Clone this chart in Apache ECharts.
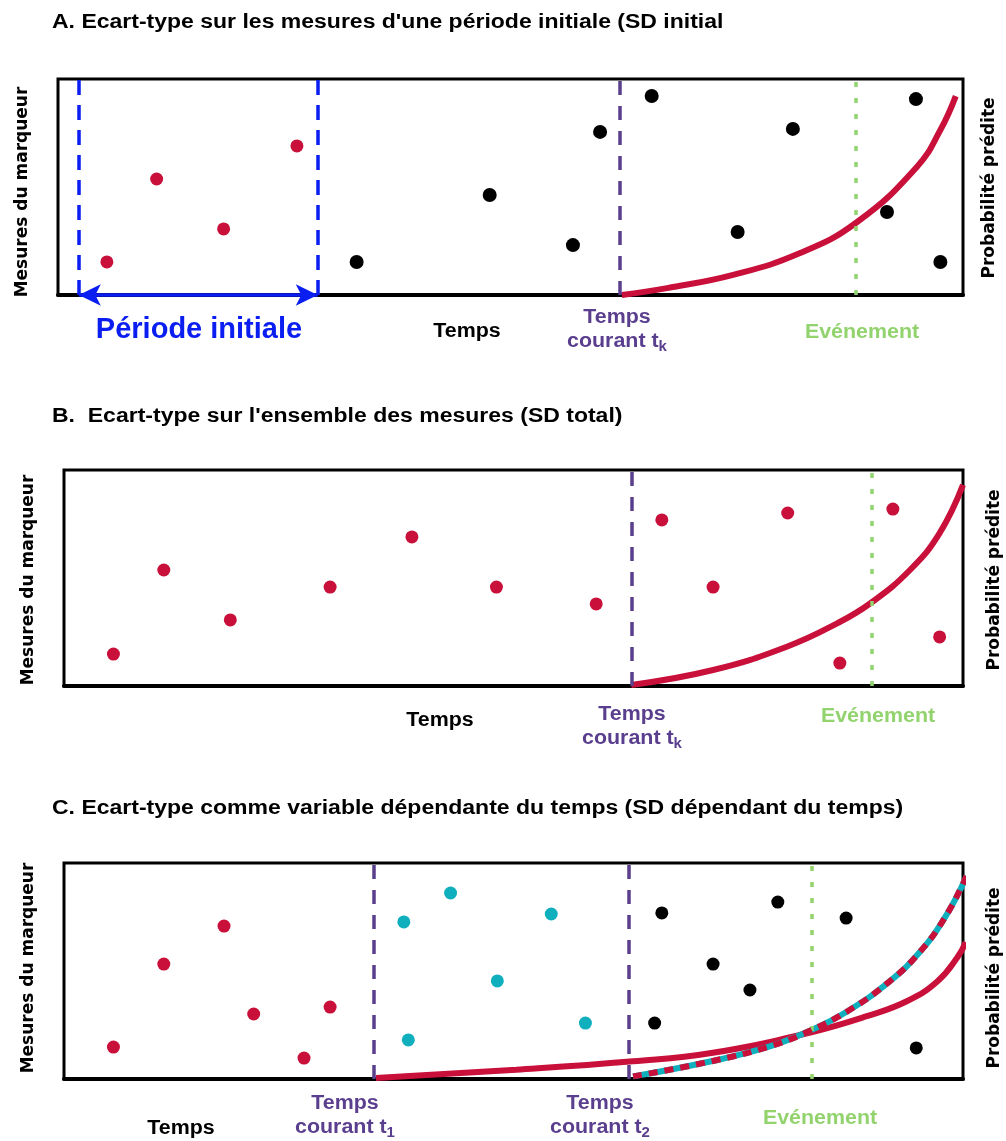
<!DOCTYPE html>
<html>
<head>
<meta charset="utf-8">
<script src="https://cdn.jsdelivr.net/npm/echarts/dist/echarts.min.js"></script>
<style>
  html, body { margin: 0; padding: 0; background: #ffffff; }
  #chart { width: 1006px; height: 1141px; }
</style>
</head>
<body>
<div id="chart"></div>
<script>
// Each panel uses a time axis from 0 to 100 and a marker axis from 0 to 100.

// Panel A: SD over an initial period
const aInitialPoints = [[5.4, 15.3], [10.9, 53.7], [18.3, 30.6], [26.4, 69.0]];
const aLaterPoints = [[33.0, 15.3], [47.7, 46.3], [56.9, 23.1], [59.9, 75.5], [65.6, 92.1],
                      [75.1, 29.2], [81.2, 76.9], [91.6, 38.4], [94.8, 90.7], [97.5, 15.3]];
const aInitialStart = 2.3;
const aInitialEnd = 28.7;
const aCurrentTime = 62.1;
const aEventTime = 88.1;
const aRiskCurve = [[62.3, 0], [67.3, 3.2], [74.6, 9.3], [82.0, 19.4], [88.3, 33.8],
                    [94.9, 59.3], [97.5, 76.4], [99.2, 92.1]];

// Panel B: SD over all measurements
const bPoints = [[5.5, 14.8], [11.1, 53.7], [18.5, 30.6], [29.6, 45.8], [38.7, 69.0],
                 [48.1, 45.8], [59.2, 38.0], [66.5, 76.9], [72.2, 45.8], [80.5, 80.1],
                 [86.3, 10.6], [92.2, 81.9], [97.4, 22.7]];
const bCurrentTime = 63.1;
const bEventTime = 89.8;
const bRiskCurve = [[63.1, 0.5], [72.2, 7.4], [80.4, 18.2], [86.0, 29.0], [89.7, 38.3],
                    [94.1, 53.7], [97.4, 70.8], [100, 93.1]];

// Panel C: SD as a time-dependent variable
const cFirstPoints = [[5.5, 14.8], [11.1, 53.2], [17.8, 70.8], [21.1, 30.1], [29.6, 33.3], [26.7, 9.7]];
const cSecondPoints = [[37.8, 72.7], [43.0, 86.1], [54.2, 76.4], [48.2, 45.4], [38.3, 18.1], [58.0, 25.9]];
const cThirdPoints = [[66.5, 76.9], [72.2, 53.2], [79.4, 81.9], [76.3, 41.2], [65.7, 25.9],
                      [87.0, 74.5], [94.8, 14.4]];
const cCurrentTime1 = 34.5;
const cCurrentTime2 = 62.8;
const cEventTime = 83.2;
const cRiskCurve1 = [[34.7, 0.5], [50.3, 4.3], [63.3, 8.2], [72.0, 12.0], [82.9, 21.4],
                     [89.4, 29.2], [93.8, 36.1], [97.2, 45.4], [99.4, 56.5], [100.3, 63.4]];
const cRiskCurve2 = [[63.3, 1.2], [72.0, 8.2], [78.6, 15.2], [82.9, 22.2], [87.2, 31.5],
                     [91.6, 44.4], [95.1, 58.3], [98.1, 75.5], [100.4, 94.0]];

const RED = '#c8103a';
const CYAN = '#0fafbd';
const PURPLE = '#5b3f8f';
const GREEN = '#92d36e';
const BLUE = '#0a1ef2';
const BLACK = '#000000';
const FONT = '"Liberation Sans", Arial, sans-serif';
const SIDE_FONT = '"DejaVu Sans", sans-serif';

const grids = [
  { left: 58, top: 79, width: 905, height: 216 },
  { left: 64, top: 470, width: 899, height: 216 },
  { left: 64, top: 863, width: 899, height: 216 }
].map(g => Object.assign({ show: true, borderColor: BLACK, borderWidth: 3, backgroundColor: 'transparent' }, g));

const xAxes = grids.map((g, i) => ({
  type: 'value', gridIndex: i, min: 0, max: 100,
  axisLine: { show: true, onZero: false, lineStyle: { color: BLACK, width: 4 } },
  axisTick: { show: false }, axisLabel: { show: false }, splitLine: { show: false }
}));
const yAxes = grids.map((g, i) => ({
  type: 'value', gridIndex: i, min: 0, max: 100, show: false
}));

function dots(i, data, color, size) {
  return {
    type: 'scatter', xAxisIndex: i, yAxisIndex: i, data: data,
    symbol: 'circle', symbolSize: size || 13, z: 5, silent: true,
    itemStyle: { color: color, opacity: 1 }
  };
}

function curve(i, data, color, type, z) {
  return {
    type: 'line', xAxisIndex: i, yAxisIndex: i, data: data,
    smooth: 0.45, showSymbol: false, silent: true, z: z || 4,
    clip: false,
    lineStyle: { color: color, width: 6, type: type || 'solid', cap: 'butt' }
  };
}

function verticals(i, lines) {
  return {
    type: 'line', xAxisIndex: i, yAxisIndex: i, data: [], silent: true, z: 3,
    markLine: {
      silent: true, symbol: 'none', label: { show: false },
      animation: false,
      data: lines.map(l => ({ xAxis: l.x, lineStyle: { color: l.color, width: 3.5, type: l.dash } }))
    }
  };
}

const dashBlue = [15, 10];
const dashPurple = [14, 11];
const dotGreen = [5, 11];

const series = [
  // Panel A
  verticals(0, [
    { x: aInitialStart, color: BLUE, dash: dashBlue },
    { x: aInitialEnd, color: BLUE, dash: dashBlue },
    { x: aCurrentTime, color: PURPLE, dash: dashPurple },
    { x: aEventTime, color: GREEN, dash: dotGreen }
  ]),
  {
    type: 'line', xAxisIndex: 0, yAxisIndex: 0, data: [], silent: true, z: 6,
    markLine: {
      silent: true, symbol: ['arrow', 'arrow'], symbolSize: [16, 22], label: { show: false },
      animation: false,
      lineStyle: { color: BLUE, width: 3.5, type: 'solid' },
      data: [[{ coord: [aInitialStart, 0] }, { coord: [aInitialEnd, 0] }]]
    }
  },
  curve(0, aRiskCurve, RED),
  dots(0, aInitialPoints, RED, 13),
  dots(0, aLaterPoints, BLACK, 14),

  // Panel B
  verticals(1, [
    { x: bCurrentTime, color: PURPLE, dash: dashPurple },
    { x: bEventTime, color: GREEN, dash: dotGreen }
  ]),
  curve(1, bRiskCurve, RED),
  dots(1, bPoints, RED, 13),

  // Panel C
  verticals(2, [
    { x: cCurrentTime1, color: PURPLE, dash: dashPurple },
    { x: cCurrentTime2, color: PURPLE, dash: dashPurple },
    { x: cEventTime, color: GREEN, dash: dotGreen }
  ]),
  curve(2, cRiskCurve1, RED),
  curve(2, cRiskCurve2, CYAN, 'solid', 4),
  curve(2, cRiskCurve2, RED, [9, 7], 5),
  dots(2, cFirstPoints, RED, 13),
  dots(2, cSecondPoints, CYAN, 13),
  dots(2, cThirdPoints, BLACK, 13)
];

// Horizontal text, slightly widened like the rest of the figure
function label(x, y, text, color, size, stretch) {
  return {
    type: 'text', x: x, y: y, silent: true, scaleX: stretch || 1.07,
    style: { text: text, fill: color, font: 'bold ' + (size || 20) + 'px ' + FONT,
             align: 'center', verticalAlign: 'middle' }
  };
}

function currentLabel(x, y, sub) {
  return [
    label(x, y, 'Temps', PURPLE, 20),
    {
      type: 'text', x: x, y: y + 24, silent: true, scaleX: 1.07,
      style: {
        text: '{m|courant t}{s|' + sub + '}', align: 'center', verticalAlign: 'middle',
        rich: {
          m: { fill: PURPLE, font: 'bold 20px ' + FONT, lineHeight: 22 },
          s: { fill: PURPLE, font: 'bold 14px ' + FONT, padding: [13, 0, 0, 0], lineHeight: 22 }
        }
      }
    }
  ];
}

function sideLabel(x, y, text) {
  return {
    type: 'text', x: x, y: y, rotation: Math.PI / 2, silent: true,
    style: { text: text, fill: BLACK, font: 'bold 17px ' + SIDE_FONT,
             align: 'center', verticalAlign: 'middle' }
  };
}

function heading(y, text) {
  return {
    type: 'text', x: 52, y: y, silent: true, scaleX: 1.15,
    style: { text: text, fill: BLACK, font: 'bold 20px ' + FONT,
             align: 'left', verticalAlign: 'middle' }
  };
}

const graphic = [
  heading(22, "A. Ecart-type sur les mesures d'une période initiale (SD initial"),
  heading(416, "B.  Ecart-type sur l'ensemble des mesures (SD total)"),
  heading(808, 'C. Ecart-type comme variable dépendante du temps (SD dépendant du temps)'),

  // Panel A texts
  label(199, 330, 'Période initiale', BLUE, 29, 1),
  label(467, 331, 'Temps', BLACK),
  ...currentLabel(617, 317, 'k'),
  label(862, 332, 'Evénement', GREEN),
  sideLabel(23, 192, 'Mesures du marqueur'),
  sideLabel(990, 188, 'Probabilité prédite'),

  // Panel B texts
  label(440, 720, 'Temps', BLACK),
  ...currentLabel(632, 714, 'k'),
  label(878, 716, 'Evénement', GREEN),
  sideLabel(29, 580, 'Mesures du marqueur'),
  sideLabel(995, 580, 'Probabilité prédite'),

  // Panel C texts
  label(181, 1128, 'Temps', BLACK),
  ...currentLabel(345, 1103, '1'),
  ...currentLabel(600, 1103, '2'),
  label(820, 1118, 'Evénement', GREEN),
  sideLabel(29, 968, 'Mesures du marqueur'),
  sideLabel(995, 978, 'Probabilité prédite')
];

const chart = echarts.init(document.getElementById('chart'), null, { renderer: 'canvas' });
chart.setOption({
  animation: false,
  backgroundColor: '#ffffff',
  grid: grids,
  xAxis: xAxes,
  yAxis: yAxes,
  series: series,
  graphic: graphic
});
</script>
</body>
</html>
